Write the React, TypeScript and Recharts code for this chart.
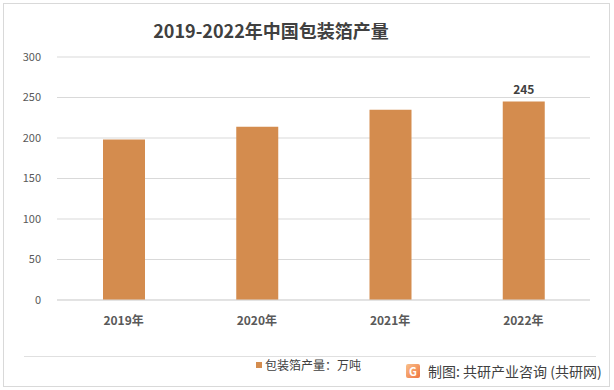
import { BarChart, Bar, XAxis, YAxis, CartesianGrid, LabelList } from 'recharts'

const years = ['2019年', '2020年', '2021年', '2022年']
const output = [198, 214, 235, 245]
const yTicks = [0, 50, 100, 150, 200, 250, 300]

const data = years.map((year, i) => ({ year, output: output[i] }))

const font = '"Noto Sans CJK SC", "Noto Sans", sans-serif'
const barColor = '#D48C4E'

// only the last bar carries a value label in the original
const LastLabel = (props: any) => {
  const { x, y, width, value, index } = props
  if (index !== data.length - 1) return null
  return (
    <text
      x={x + width / 2}
      y={y - 8}
      textAnchor="middle"
      fill="#404040"
      fontSize={12}
      fontWeight={600}
      fontFamily={font}
    >
      {value}
    </text>
  )
}

export default function App() {
  return (
    <div
      style={{
        position: 'absolute',
        left: 0,
        top: 0,
        width: 614,
        height: 390,
        background: '#fff',
        fontFamily: font,
      }}
    >
      <div
        style={{
          position: 'absolute',
          left: 3,
          top: 3,
          width: 605,
          height: 382,
          border: '1px solid #d9d9d9',
        }}
      />
      <div
        style={{
          position: 'absolute',
          left: 0,
          top: 17,
          width: 542,
          textAlign: 'center',
          fontSize: 18,
          fontWeight: 700,
          color: '#404040',
          lineHeight: '26px',
        }}
      >
        2019-2022年中国包装箔产量
      </div>
      <div style={{ position: 'absolute', left: 0, top: 0 }}>
        <BarChart
          width={614}
          height={340}
          data={data}
          margin={{ top: 57, right: 24, left: 0, bottom: 0 }}
        >
          <CartesianGrid vertical={false} stroke="#d9d9d9" />
          <XAxis
            dataKey="year"
            height={40}
            axisLine={{ stroke: '#d9d9d9' }}
            tickLine={false}
            tick={{ fill: '#595959', fontSize: 12, fontWeight: 600, fontFamily: font }}
            tickMargin={10}
          />
          <YAxis
            width={57}
            domain={[0, 300]}
            ticks={yTicks}
            axisLine={false}
            tickLine={false}
            tick={{ fill: '#595959', fontSize: 11, fontFamily: font }}
            tickMargin={10}
          />
          <Bar dataKey="output" fill={barColor} barSize={42} isAnimationActive={false}>
            <LabelList dataKey="output" content={LastLabel} />
          </Bar>
        </BarChart>
      </div>
      <div
        style={{
          position: 'absolute',
          left: 24,
          top: 356,
          width: 572,
          height: 1,
          background: '#e0e0e0',
        }}
      />
      <div
        style={{
          position: 'absolute',
          left: 256,
          top: 357,
          display: 'flex',
          alignItems: 'center',
          fontSize: 12,
          color: '#404040',
          lineHeight: '16px',
        }}
      >
        <span style={{ width: 6, height: 6, background: barColor, marginRight: 3, display: 'inline-block' }} />
        包装箔产量：万吨
      </div>
      <div
        style={{
          position: 'absolute',
          left: 406,
          top: 362,
          display: 'flex',
          alignItems: 'center',
          fontSize: 14,
          color: '#404040',
          lineHeight: '18px',
        }}
      >
        <span
          style={{
            width: 14,
            height: 14,
            borderRadius: 2,
            background: 'linear-gradient(135deg, #f9c08a, #ef7440)',
            color: '#fff',
            fontSize: 11,
            fontWeight: 700,
            lineHeight: '14px',
            textAlign: 'center',
            marginRight: 8,
            display: 'inline-block',
          }}
        >
          G
        </span>
        制图: 共研产业咨询 (共研网)
      </div>
    </div>
  )
}
